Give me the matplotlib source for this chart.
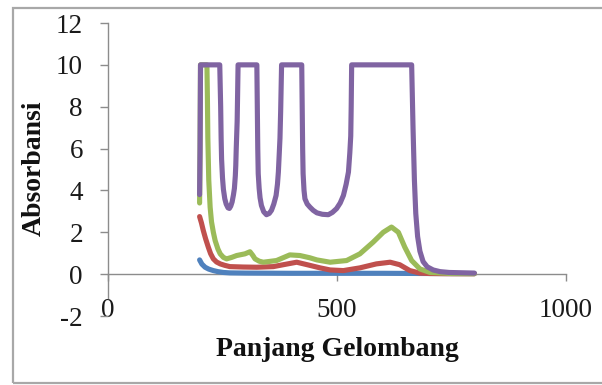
import matplotlib
matplotlib.use("Agg")
import matplotlib.pyplot as plt
from matplotlib.patches import Rectangle

# ---- data ----
blue_x = [200, 205, 212, 220, 230, 240, 252, 266, 300, 400, 500, 600, 700, 800]
blue_y = [0.68, 0.48, 0.33, 0.24, 0.17, 0.12, 0.08, 0.06, 0.05, 0.04, 0.04, 0.04, 0.03, 0.03]

red_x = [200, 204, 208, 213, 219, 224, 230, 237, 245, 255, 266, 295, 325, 361, 385, 412,
         435, 463, 485, 514, 550, 586, 616, 637, 659, 681, 703, 740, 800]
red_y = [2.75, 2.45, 2.09, 1.70, 1.29, 0.98, 0.73, 0.58, 0.49, 0.42, 0.36, 0.34, 0.33, 0.36,
         0.46, 0.57, 0.45, 0.30, 0.20, 0.17, 0.30, 0.49, 0.57, 0.45, 0.17, 0.05, 0.03, 0.02, 0.02]

green_x = [200, 201, 202, 216, 217, 218, 220, 223, 226, 230, 234, 240, 245, 252, 259, 270,
           281, 299, 310, 316, 321, 330, 339, 368, 397, 419, 441, 456, 485, 521, 550, 579,
           601, 619, 634, 648, 663, 681, 703, 750, 800]
green_y = [3.4, 6.0, 10.0, 10.0, 8.5, 6.5, 4.5, 3.2, 2.5, 2.0, 1.6, 1.2, 0.97, 0.80, 0.73,
           0.80, 0.89, 0.97, 1.07, 0.90, 0.73, 0.62, 0.57, 0.65, 0.92, 0.89, 0.78, 0.68, 0.57,
           0.65, 0.97, 1.53, 2.00, 2.25, 2.00, 1.29, 0.65, 0.25, 0.08, 0.03, 0.02]

purple_x = [200, 201, 202,
            244, 246, 247, 248, 250, 252, 255, 258, 262, 265, 268, 271, 274, 276, 278, 279,
            280, 282, 283, 284,
            325, 326, 327, 328, 330, 332, 335, 340, 346, 352, 357, 362, 367, 370, 372, 374,
            375.5, 377, 378, 379,
            423, 424, 425, 426, 428, 430, 435, 441, 448, 456, 468, 481, 490, 499, 507, 514,
            520, 525, 528, 530, 531, 532,
            663, 666, 669, 672, 676, 681, 688, 697, 710, 725, 745, 800]
purple_y = [3.8, 6.0, 10.0,
            10.0, 8.0, 6.5, 5.5, 4.6, 4.05, 3.6, 3.35, 3.17, 3.14, 3.25, 3.45, 3.8, 4.1, 4.7,
            5.2, 6.0, 7.3, 8.6, 10.0,
            10.0, 8.0, 6.0, 4.8, 4.1, 3.65, 3.28, 2.98, 2.84, 2.9, 3.05, 3.35, 3.76, 4.3, 4.88,
            5.8, 6.5, 7.8, 8.9, 10.0,
            10.0, 8.0, 6.0, 4.8, 4.0, 3.6, 3.35, 3.2, 3.05, 2.93, 2.86, 2.84, 2.95, 3.13, 3.4,
            3.76, 4.3, 4.88, 5.8, 6.6, 8.0, 10.0,
            10.0, 7.0, 4.5, 2.9, 1.8, 1.1, 0.6, 0.35, 0.2, 0.12, 0.08, 0.05]

x_ticks = [0, 500, 1000]
y_ticks = [-2, 0, 2, 4, 6, 8, 10, 12]
x_label = "Panjang Gelombang"
y_label = "Absorbansi"

# ---- figure ----
W, H = 602, 385
fig = plt.figure(figsize=(W / 100, H / 100), dpi=100)
serif = ["Liberation Serif", "DejaVu Serif"]

# outer chart border
fig.patches.append(Rectangle((12.5 / W, 1 - 382.5 / H), 1.0, (382.5 - 7.5) / H,
                             transform=fig.transFigure, fill=False,
                             edgecolor="#a8a8a8", linewidth=1.6))

left, right, top, bottom = 108, 566, 23, 316
ax = fig.add_axes([left / W, 1 - bottom / H, (right - left) / W, (bottom - top) / H])

for s in ["top", "right"]:
    ax.spines[s].set_visible(False)
ax.spines["bottom"].set_position(("data", 0))

lw = 3.7
for xs, ys, c in [(blue_x, blue_y, "#4F81BD"), (red_x, red_y, "#C0504D"),
                  (green_x, green_y, "#9BBB59"), (purple_x, purple_y, "#8064A2")]:
    ax.plot(xs, ys, color=c, linewidth=lw, solid_joinstyle="round",
            solid_capstyle="round", zorder=3)

ax.set_xlim(0, 1000)
ax.set_ylim(-2, 12)
ax.set_xticks(x_ticks)
ax.set_yticks(y_ticks)
ax.set_xticklabels([str(v) for v in x_ticks], family=serif, fontsize=19.5, color="#1a1a1a")
ax.set_yticklabels([str(v) for v in y_ticks], family=serif, fontsize=19.5, color="#1a1a1a")

ax.spines["bottom"].set_color("#8c8c8c")
ax.spines["left"].set_color("#8c8c8c")
ax.spines["bottom"].set_linewidth(1.0)
ax.spines["left"].set_linewidth(1.0)
ax.spines["bottom"].set_zorder(1)
ax.spines["left"].set_bounds(-1.15, 12)

ax.tick_params(axis="x", direction="out", length=5, width=1.0, color="#8c8c8c", pad=12)
ax.tick_params(axis="y", direction="out", length=6, width=1.0, color="#8c8c8c", pad=12)

fig.text(337 / W, 1 - 350 / H, x_label, family=serif, fontweight="bold",
         fontsize=20, ha="center", va="center", color="#111111")
fig.text(34 / W, 1 - 168 / H, y_label, family=serif, fontweight="bold",
         fontsize=20, ha="center", va="center", rotation=90, color="#111111")

fig.savefig("out.png", dpi=100)
